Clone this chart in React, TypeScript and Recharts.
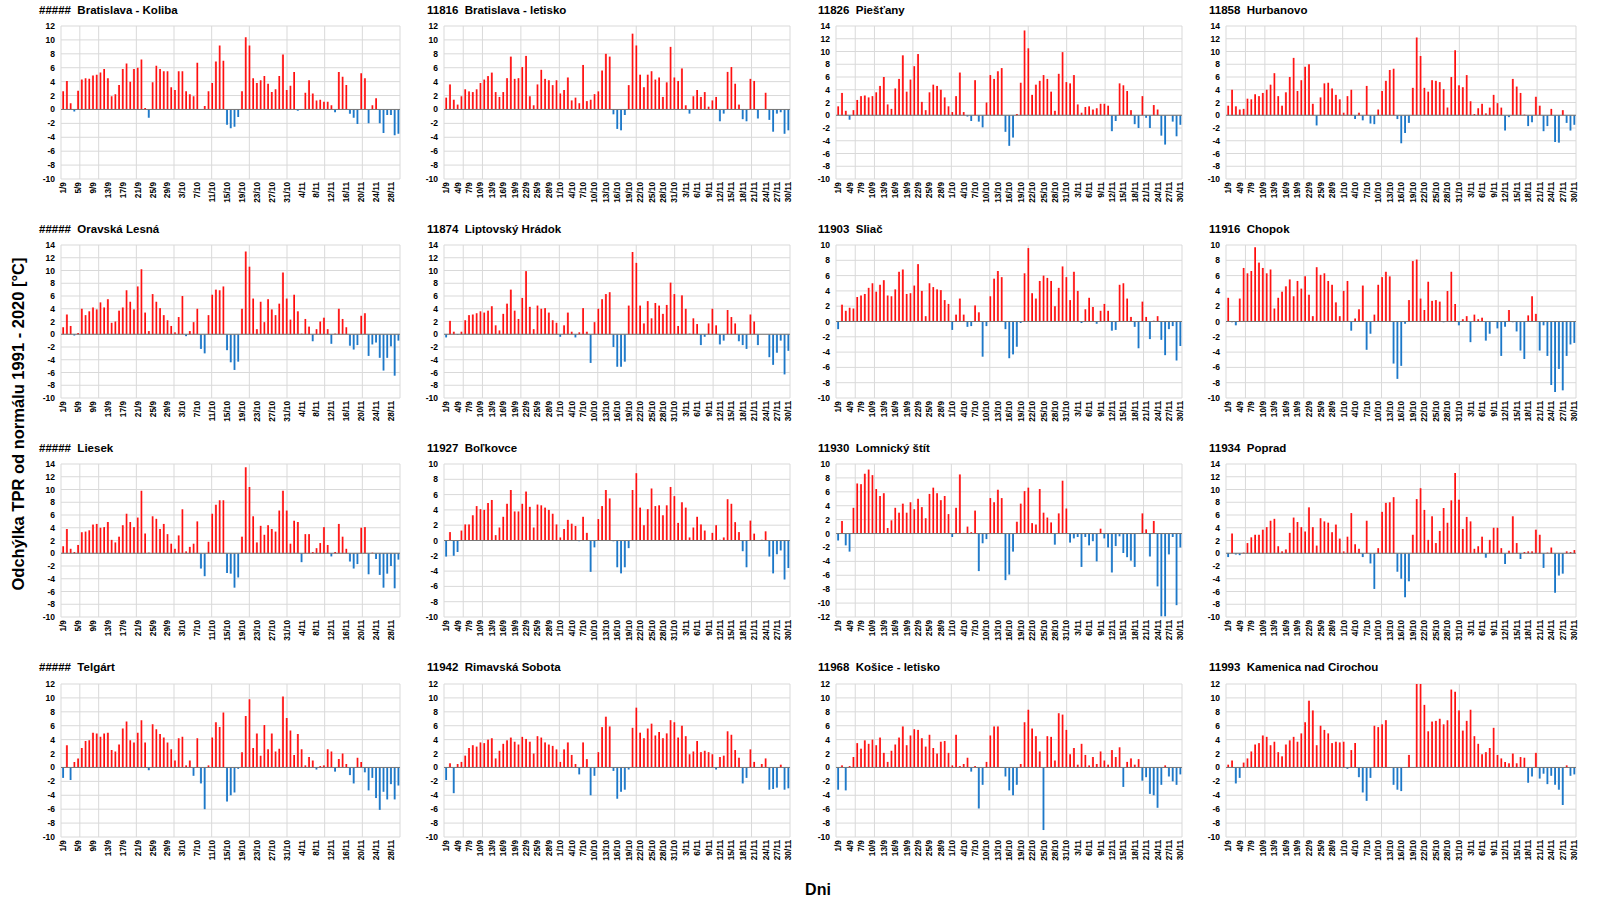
import React from 'react';
import { BarChart, Bar, XAxis, YAxis, CartesianGrid, ReferenceLine, ReferenceArea, Cell } from 'recharts';

const dates = [
  "1/9","2/9","3/9","4/9","5/9","6/9","7/9","8/9","9/9","10/9","11/9","12/9","13/9","14/9","15/9","16/9","17/9","18/9","19/9","20/9","21/9","22/9","23/9","24/9","25/9","26/9","27/9","28/9","29/9","30/9",
  "1/10","2/10","3/10","4/10","5/10","6/10","7/10","8/10","9/10","10/10","11/10","12/10","13/10","14/10","15/10","16/10","17/10","18/10","19/10","20/10","21/10","22/10","23/10","24/10","25/10","26/10","27/10","28/10","29/10","30/10","31/10",
  "1/11","2/11","3/11","4/11","5/11","6/11","7/11","8/11","9/11","10/11","11/11","12/11","13/11","14/11","15/11","16/11","17/11","18/11","19/11","20/11","21/11","22/11","23/11","24/11","25/11","26/11","27/11","28/11","29/11","30/11"
];

const koliba = [2.6,4.1,0.9,-0.3,2.7,4.3,4.5,4.4,4.9,5.0, 5.3,5.8,4.5,1.9,2.2,3.5,5.8,6.6,4.0,5.8, 6.0,7.2,0.2,-1.2,3.9,6.3,5.8,5.5,5.5,3.2, 2.8,5.5,5.5,2.6,2.2,1.9,6.7,0,0.5,2.6, 3.8,6.9,9.2,7.0,-2.2,-2.7,-2.5,-1.1,2.6,10.4, 9.2,4.5,3.8,4.2,4.8,3.7,2.5,2.9,4.8,7.9, 2.8,3.4,5.4,-0.2,0,2.4,4.2,2.3,1.3,1.4, 1.1,1.1,0.6,-0.4,5.4,4.7,3.5,-0.6,-1.2,-2.1, 5.2,4.5,-2.0,0.6,1.6,-2.0,-3.4,-0.8,-0.8,-3.7,-3.5];
const letisko = [1.7,3.6,1.4,0.7,1.9,2.9,2.6,2.5,2.9,3.8, 4.3,4.8,5.3,2.5,1.8,2.5,4.5,7.6,4.4,4.5, 6.1,7.7,1.9,0.6,3.6,5.7,4.4,4.2,3.5,4.2, 2.3,2.8,4.6,1.3,1.7,0.9,6.4,1.2,1.4,2.2, 2.6,5.6,8.0,7.6,-0.7,-2.8,-3.0,-0.8,3.5,10.9, 9.2,5.0,3.2,5.0,5.5,4.3,4.6,1.8,3.9,9.0, 4.6,4.1,5.9,0.6,-0.6,1.9,2.8,1.8,2.5,0.4, 1.3,1.8,-1.7,-0.6,5.4,6.1,3.7,0.7,-1.4,-1.7, 4.4,4.1,-1.3,0,2.4,-1.5,-3.2,-0.6,-0.4,-3.5,-3.0];
const piestany = [1.4,3.5,0.7,-0.7,0.8,2.4,3.0,3.1,2.8,3.0, 3.6,4.6,6.0,1.7,1.0,4.2,5.7,9.4,3.7,5.6, 7.7,9.6,2.1,0.8,3.6,4.8,4.6,4.0,2.8,1.4, 0.5,3.0,6.7,0.5,-0.2,-0.9,5.5,-1.0,-1.9,2.0, 6.3,5.7,6.9,7.4,-2.6,-4.8,-3.5,0.2,5.1,13.3, 10.5,3.2,4.8,5.4,6.3,5.7,3.7,0.7,6.5,9.9, 5.2,5.0,6.3,1.7,0.4,1.3,1.4,0.9,1.1,1.8, 1.8,1.5,-2.5,-0.9,5.0,4.7,3.8,0.8,-1.4,-2.0, 3.0,-0.4,-2.0,1.6,0.9,-3.2,-4.6,0,-1.0,-3.3,-1.5];
const hurbanovo = [1.5,4.0,1.4,0.9,1.0,2.6,2.5,3.3,3.0,3.5, 4.0,4.8,6.6,3.0,1.5,3.6,6.0,9.0,3.8,5.5, 7.6,8.0,1.8,-1.6,2.8,5.0,5.1,4.2,3.2,2.5, 0.4,3.0,4.0,-0.6,0.4,-0.8,4.6,-1.3,-1.4,0.9, 3.8,5.4,7.1,7.3,-0.6,-4.4,-2.8,-1.2,4.3,12.2, 9.3,4.3,3.7,5.5,5.4,5.2,4.1,1.2,6.0,10.2, 4.7,4.4,6.3,2.2,0.2,1.1,1.8,0.3,1.2,3.2, 1.9,1.2,-2.4,-0.3,5.7,4.5,3.5,0.1,-1.7,-1.1, 2.9,1.5,-2.5,-1.7,1.0,-4.2,-4.3,0.8,-1.2,-2.4,-1.5];
const oravska = [1.1,3.1,1.3,-0.2,0.2,4.0,3.0,3.6,4.2,3.9, 5.0,4.2,5.5,1.8,2.0,3.7,4.2,6.9,5.1,3.9, 7.5,10.2,3.4,0.5,6.3,5.1,4.1,3.0,2.2,1.3, 0.3,2.7,6.0,-0.3,0.5,1.9,4.0,-2.3,-3.0,3.0, 6.2,7.0,6.9,7.5,-2.5,-4.4,-5.6,-4.3,4.0,13.0, 10.6,5.6,0.8,5.1,1.9,5.5,3.9,3.0,4.8,9.7, 5.6,2.3,6.2,3.6,0.1,2.4,1.2,-1.1,0.8,2.0, 2.6,0.8,-1.5,0.1,4.0,2.4,1.1,-1.8,-2.4,-1.7, 2.9,3.3,-3.4,-1.6,-1.3,-3.7,-5.7,-3.7,-1.9,-6.5,-1.0];
const liptov = [-0.5,2.1,0.4,-0.1,0.4,2.2,3.0,3.1,3.3,3.6, 3.4,3.7,4.4,1.4,0.6,3.2,4.8,7.0,3.7,2.4, 5.7,9.9,4.3,0.8,4.5,4.0,4.1,3.4,2.2,1.8, -0.4,1.4,3.4,0.4,-0.5,0.3,4.1,0.4,-4.5,1.9, 4.0,5.5,6.3,6.6,-2.0,-5.1,-5.1,-4.3,4.5,12.9, 11.2,4.5,1.7,5.2,2.5,4.9,4.5,3.2,4.6,8.1, 6.3,1.3,6.1,4.0,0.1,2.5,1.6,-1.7,-0.4,1.7, 4.0,1.4,-1.6,-1.0,3.8,2.7,1.7,-1.1,-1.7,-2.3, 3.1,2.0,-1.7,0,0,-3.6,-4.8,-2.9,-1.0,-6.3,-2.6];
const sliac = [-1.0,2.2,1.4,1.8,1.7,3.2,3.4,3.6,4.4,5.0, 3.9,4.8,5.4,3.4,3.3,4.2,6.5,6.8,3.6,3.7, 4.7,7.5,4.0,0.7,5.0,4.5,4.2,4.1,2.8,2.3, -1.1,0.9,3.0,0.9,-0.7,-0.6,2.1,1.2,-4.6,-0.6, 3.3,5.6,6.6,5.8,-1.0,-4.8,-4.3,-3.3,-0.2,6.3, 9.6,3.7,3.0,5.3,6.0,5.7,5.3,2.0,4.4,7.2, 5.8,2.8,6.5,4.0,-0.2,1.6,3.1,1.9,-0.3,1.4, 2.3,1.4,-1.2,-1.1,4.8,5.0,3.0,0.6,-0.7,-3.5, 2.6,0.6,-2.3,0.1,0.7,-2.4,-4.4,-1.0,-0.6,-5.1,-3.2];
const chopok = [3.1,-0.1,-0.5,3.0,7.0,6.3,6.6,9.7,7.7,7.0, 6.3,6.8,1.7,3.1,3.9,4.6,5.5,3.3,5.3,4.3, 5.9,3.5,0.7,7.1,6.1,6.3,5.3,4.8,2.5,0.7, 4.0,5.3,-1.2,0.4,1.6,4.7,-3.7,-1.6,0.9,4.8, 5.8,6.5,5.9,-5.5,-7.5,-5.8,-0.3,2.8,7.9,8.1, 3.0,1.5,5.2,2.7,2.8,2.6,-0.1,4.0,6.5,2.3, -0.5,0.3,0.7,-2.7,0.9,0.3,0.5,-2.5,-1.6,0, -0.9,-4.5,-0.7,1.5,-0.1,-1.3,-3.8,-4.9,0.8,3.3, 1.0,-3.8,-0.5,-4.5,-8.3,-9.2,-6.2,-9.0,-4.5,-3.0,-2.8];
const liesek = [1.1,3.8,0.7,0.2,1.3,3.3,3.4,3.6,4.5,4.6, 4.0,4.1,4.9,2.1,1.7,2.6,4.4,6.2,4.9,4.1, 5.6,9.8,3.1,0.1,5.8,5.4,3.8,4.6,3.0,1.5, 0.7,2.8,6.9,0.3,1.0,1.5,5.0,-2.4,-3.6,1.8, 6.2,7.6,8.3,8.3,-3.1,-3.2,-5.4,-3.8,2.6,13.5, 10.4,5.8,1.7,4.3,2.9,4.4,3.8,3.4,6.7,9.8, 6.7,1.5,5.1,4.9,-1.4,3.0,3.0,0.2,0.8,1.6, 4.1,1.3,-0.5,0.2,4.6,2.6,0.7,-1.3,-2.4,-1.7, 4.0,4.1,-3.3,0.1,-0.9,-3.4,-5.4,-3.2,-2.0,-5.5,-1.0];
const bolkovce = [-2.1,1.1,-2.0,-1.5,1.3,2.1,2.1,3.3,4.5,4.1, 4.0,4.9,5.3,0.7,1.7,3.1,4.8,6.6,3.8,3.8, 4.8,6.4,4.4,1.7,4.7,4.6,4.3,4.0,3.5,2.1, 0.4,1.5,2.7,2.2,1.9,-0.1,3.1,1.0,-4.1,-0.9, 2.8,4.5,6.6,5.5,-0.1,-3.5,-4.3,-3.5,-1.0,6.6, 8.8,4.3,2.0,4.1,6.8,4.5,4.6,3.3,4.6,7.0, 5.8,2.3,5.0,4.3,0.4,1.7,3.1,2.1,1.3,0, 1.0,2.0,0.1,0.4,5.4,4.8,2.4,1.1,-1.4,-3.5, 2.6,0.9,0,0.1,1.2,-2.1,-4.3,-1.8,-1.3,-5.1,-3.6];
const lomnicky = [-1.0,1.8,-1.7,-2.6,3.7,7.2,7.1,8.6,9.2,8.4, 6.4,5.4,5.8,0.8,1.9,3.7,3.0,4.3,3.0,4.5, 3.5,5.0,3.8,2.2,5.7,6.6,5.8,4.8,5.4,2.8, -0.5,3.7,8.5,0.1,1.0,0.2,3.3,-5.4,-1.4,-0.8, 5.1,4.5,6.3,5.1,-6.7,-5.9,-2.6,1.7,4.3,6.1, 6.6,1.5,1.3,6.4,3.0,2.3,1.6,-1.6,2.9,7.6, 3.6,-1.3,-0.7,-0.5,-4.8,-0.5,-1.7,-1.1,-4.0,0.7, -0.7,-2.0,-5.6,-1.8,-0.4,-2.8,-3.4,-3.9,-4.8,0, 2.9,0.6,-3.3,1.8,-7.6,-11.9,-11.9,-3.0,-0.5,-10.3,-2.0];
const poprad = [-0.6,3.1,-0.2,-0.3,0.1,1.6,2.5,2.9,2.9,3.7, 4.1,5.1,5.4,1.1,0.3,0.6,3.2,5.6,4.9,4.1, 3.4,7.2,4.1,1.2,5.5,5.0,4.8,3.3,4.5,2.3, 0.3,2.6,6.3,1.4,0.7,-0.6,5.1,-1.6,-5.6,0.8, 6.5,7.9,8.0,8.8,-2.9,-4.0,-6.9,-4.4,2.9,8.5, 10.2,6.8,2.1,5.8,1.6,3.5,7.1,4.8,8.3,12.6, 8.4,3.8,5.7,5.0,0.7,1.1,2.6,-0.7,2.1,4.0, 4.0,0.8,-1.7,0.4,5.8,1.6,-0.9,0.2,0.3,0.3, 3.7,2.9,-2.3,0.1,0.9,-6.2,-3.5,-3.2,0.3,0.2,0.5];
const telgart = [-1.5,3.2,-1.8,0.8,1.3,2.8,3.8,3.9,5.0,4.9, 4.4,4.9,5.0,2.5,2.3,3.3,5.6,6.6,3.9,3.6, 5.0,6.8,3.6,-0.4,6.2,5.5,4.8,4.3,3.6,2.6, 1.0,4.2,4.4,0.3,1.0,-1.2,4.2,-2.3,-6.0,0.3, 4.3,6.5,5.8,7.9,-4.9,-4.0,-3.6,-0.2,2.2,7.4, 9.8,2.8,4.9,1.7,6.1,2.6,4.9,2.3,2.7,10.2, 7.1,5.3,1.8,4.8,2.6,0.3,1.5,1.0,-0.3,0.2, 0.3,2.6,2.3,-0.6,1.2,2.0,0.5,-1.1,-2.3,1.4, 0.8,-0.7,-3.3,-1.5,-4.4,-6.1,-3.5,-4.6,-2.4,-4.6,-2.6];
const rimavska = [-1.8,0.6,-3.7,0.5,0.8,1.7,2.8,3.2,3.0,3.6, 3.5,4.0,4.2,1.3,2.4,3.4,3.9,4.3,3.7,3.3, 4.4,4.1,3.7,2.0,4.5,4.3,3.6,3.3,3.1,2.6, 0.8,2.6,3.6,1.8,0.5,-1.0,3.6,1.2,-4.0,-1.2, 2.2,5.8,7.3,5.9,-0.5,-4.5,-3.5,-3.2,-0.3,5.7, 8.6,5.0,4.2,5.6,6.3,4.6,5.1,4.2,4.9,6.8, 6.5,4.3,6.0,4.5,1.9,2.3,3.8,2.2,2.4,2.2, 1.9,-0.3,1.5,1.7,5.2,4.7,2.5,1.4,-2.3,-1.5, 2.6,0.8,0,0.5,1.3,-3.2,-3.1,-2.9,0.4,-3.2,-3.0];
const kosice = [-3.2,0.3,-3.3,0.2,1.5,3.5,2.7,3.9,3.4,4.0, 3.2,4.3,2.1,0.8,2.4,3.3,4.3,5.9,3.2,4.6, 5.5,5.4,4.2,3.0,4.7,2.8,2.0,3.7,3.8,2.1, 0.3,4.7,0.2,0.5,1.4,-0.6,0.2,-5.9,-2.5,0.8, 4.6,5.9,5.9,0,-1.3,-3.3,-4.0,-2.5,0.5,6.5, 8.3,5.6,4.5,2.3,-9.0,4.5,4.4,1.0,7.8,7.6, 5.4,1.9,2.8,0.4,3.4,1.8,0.3,1.5,0.5,2.3, 1.0,0.4,2.5,1.5,2.9,-2.8,0.8,1.3,0.4,1.2, -1.9,-1.4,-3.8,-4.0,-5.8,-2.5,0.3,-1.3,-2.0,-2.5,-1.0];
const kamenica = [0.4,1.0,-2.3,-1.5,0.7,1.3,2.3,3.3,3.5,4.6, 4.4,3.2,3.7,2.2,1.6,3.3,3.9,4.4,3.7,4.9, 6.5,9.6,8.2,3.2,6.0,5.4,4.9,3.5,3.7,3.6, 3.7,-0.2,2.5,3.5,-1.4,-3.6,-4.8,-1.5,6.0,5.8, 6.2,6.8,0,-2.5,-3.2,-3.4,0,1.8,0,12.0, 12.0,9.0,5.2,6.6,6.7,7.0,6.2,6.8,11.2,10.9, 8.2,5.3,6.7,8.3,4.5,3.4,1.9,2.2,2.8,5.7, 1.8,1.3,0.8,0.6,2.0,0.6,1.5,1.4,-2.2,-1.3, 2.1,-1.6,-0.9,-2.4,-1.2,-2.5,-3.2,-5.4,0.3,-1.2,-1.0];

const stationNames = [
  "#####  Bratislava - Koliba", "11816  Bratislava - letisko", "11826  Piešťany", "11858  Hurbanovo",
  "#####  Oravská Lesná", "11874  Liptovský Hrádok", "11903  Sliač", "11916  Chopok",
  "#####  Liesek", "11927  Boľkovce", "11930  Lomnický štít", "11934  Poprad",
  "#####  Telgárt", "11942  Rimavská Sobota", "11968  Košice - letisko", "11993  Kamenica nad Cirochou"
];
const stationValues = [koliba, letisko, piestany, hurbanovo, oravska, liptov, sliac, chopok, liesek, bolkovce, lomnicky, poprad, telgart, rimavska, kosice, kamenica];
const yMins = [-10, -10, -10, -10, -10, -10, -10, -10, -10, -10, -12, -10, -10, -10, -10, -10];
const yMaxs = [12, 12, 14, 14, 14, 14, 10, 10, 14, 10, 10, 14, 12, 12, 12, 12];
const labelIntervals = [3, 2, 2, 2, 3, 2, 2, 2, 3, 2, 2, 2, 3, 2, 2, 2];
const gridEvery = [5, 10, 15, 20, 25, 30, 35, 40, 45, 50, 55, 60, 65, 70, 75, 80, 85, 90];

// layout
const colLeft = [61, 444, 836, 1226];
const colWidth = [339, 346, 346, 350];
const colTitleDx = [-22, -17, -18, -17];
const rowTop = [26, 245, 464, 683.5];
const PLOT_H = 153;
const YAXIS_W = 34;
const XAXIS_H = 32;
const MT = 7;
const MR = 3;
const FONT = '"Liberation Sans", Arial, Helvetica, sans-serif';

const XTick = (props: any) => {
  const { x, y, payload } = props;
  return (
    <g transform={`translate(${x + 0.3},${y})`}>
      <text transform="rotate(-90)" textAnchor="end" dominantBaseline="central" fontSize={8.3} fontWeight={700} fill="#000" fontFamily={FONT}>
        {payload.value}
      </text>
    </g>
  );
};

function Panel({ idx }: { idx: number }) {
  const r = Math.floor(idx / 4);
  const c = idx % 4;
  const values = stationValues[idx];
  const yMin = yMins[idx];
  const yMax = yMaxs[idx];
  const data = dates.map((d, i) => ({ d, v: values[i] }));
  const ticks: number[] = [];
  for (let t = yMin; t <= yMax; t += 2) ticks.push(t);
  const plotW = colWidth[c];
  const chartW = YAXIS_W + plotW + MR;
  const chartH = MT + PLOT_H + XAXIS_H;
  const left = colLeft[c] - YAXIS_W;
  const top = rowTop[r] - MT;
  return (
    <>
      <div style={{ position: 'absolute', left: colLeft[c] + colTitleDx[c], top: rowTop[r] - 16.5 - 7, height: 14, lineHeight: '14px', fontSize: 11.5, fontWeight: 700, whiteSpace: 'pre', color: '#000' }}>
        {stationNames[idx]}
      </div>
      <div style={{ position: 'absolute', left, top, width: chartW, height: chartH }}>
        <BarChart width={chartW} height={chartH} data={data} margin={{ top: MT, right: MR, bottom: 0, left: 0 }} barCategoryGap="28%">
          <defs>
            <linearGradient id="gRed" x1="0" y1="0" x2="1" y2="0">
              <stop offset="0" stopColor="#ff9c9c" />
              <stop offset="0.4" stopColor="#ff1a1a" />
              <stop offset="1" stopColor="#ff0000" />
            </linearGradient>
            <linearGradient id="gBlue" x1="0" y1="0" x2="1" y2="0">
              <stop offset="0" stopColor="#5ea6e2" />
              <stop offset="0.4" stopColor="#1f7ac9" />
              <stop offset="1" stopColor="#1a72c2" />
            </linearGradient>
          </defs>
          <CartesianGrid vertical={false} stroke="#d9d9d9" />
          <CartesianGrid xAxisId="g" horizontal={false} stroke="#d9d9d9" />
          <XAxis dataKey="d" interval={labelIntervals[idx]} height={XAXIS_H} axisLine={false} tickLine={false} tickSize={0} tickMargin={3} tick={(p: any) => <XTick {...p} />} />
          <XAxis xAxisId="g" type="number" domain={[0, dates.length]} ticks={gridEvery} hide allowDataOverflow />
          <YAxis domain={[yMin, yMax]} ticks={ticks} interval={0} width={YAXIS_W} axisLine={false} tickLine={false} tickSize={0} tickMargin={6} allowDataOverflow tick={{ fontSize: 8.5, fontWeight: 700, fill: '#000', fontFamily: FONT }} />
          <Bar dataKey="v" isAnimationActive={false}>
            {data.map((e, i) => (
              <Cell key={i} fill={e.v >= 0 ? 'url(#gRed)' : 'url(#gBlue)'} />
            ))}
          </Bar>
          <ReferenceLine y={0} stroke="#767676" strokeWidth={1} />
          <ReferenceArea xAxisId="g" x1={0} x2={dates.length} y1={yMin} y2={yMax} fill="none" stroke="#a0a0a0" strokeWidth={1} />
        </BarChart>
      </div>
    </>
  );
}

export default function App() {
  return (
    <div style={{ position: 'absolute', left: 0, top: 0, width: 1600, height: 902, background: '#fff', fontFamily: FONT, overflow: 'hidden' }}>
      {stationNames.map((_, i) => (
        <Panel key={i} idx={i} />
      ))}
      <div style={{ position: 'absolute', left: 18, top: 424, transform: 'translate(-50%, -50%) rotate(-90deg)', whiteSpace: 'nowrap', fontSize: 16.5, fontWeight: 700, color: '#000' }}>
        Odchýlka TPR od normálu 1991 - 2020 [°C]
      </div>
      <div style={{ position: 'absolute', left: 818, top: 890, transform: 'translate(-50%, -50%)', whiteSpace: 'nowrap', fontSize: 16, fontWeight: 700, color: '#000' }}>
        Dni
      </div>
    </div>
  );
}
